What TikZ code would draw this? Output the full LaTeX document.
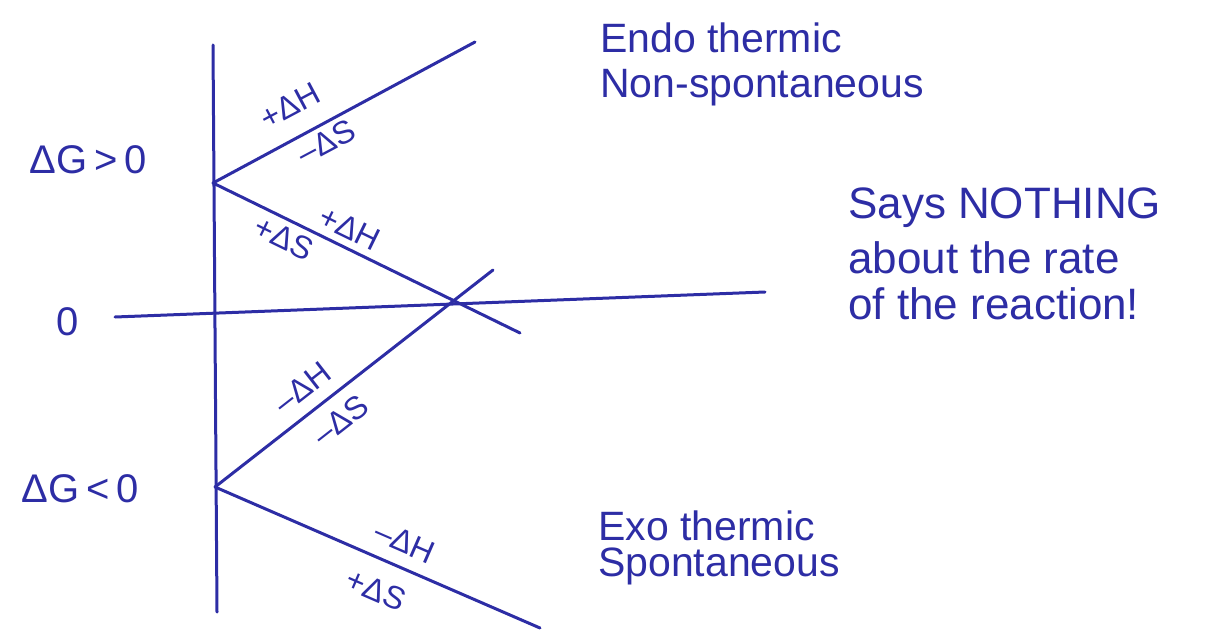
\documentclass[tikz,border=0pt]{standalone}
\usepackage{fontspec}
\setmainfont{Liberation Sans}
\definecolor{ink}{RGB}{45,45,165}
\begin{document}
\begin{tikzpicture}[x=1pt,y=-1pt,
  ln/.style={draw=ink,line width=3pt,line cap=round},
  lbl/.style={text=ink,font=\fontsize{32}{36}\selectfont,inner sep=0pt},
  note/.style={text=ink,font=\fontsize{41}{46}\selectfont,inner sep=0pt,anchor=west},
  bignote/.style={note,font=\fontsize{44}{50}\selectfont},
  glbl/.style={text=ink,font=\fontsize{40}{46}\selectfont,inner sep=0pt}]
\useasboundingbox (0,0) rectangle (1222,631);
% axis points
\coordinate (vtop) at (213,45);
\coordinate (vbot) at (217,612);
\coordinate (hleft) at (115,317);
\coordinate (hright) at (765,292);
\coordinate (up) at (213,183);
\coordinate (lo) at (215,487);
\coordinate (e1) at (475,42);
\coordinate (e2) at (520,333);
\coordinate (e3) at (493,270);
\coordinate (e4) at (540,628);
\draw[ln] (vtop) -- (vbot);
\draw[ln] (hleft) -- (hright);
\draw[ln] (up) -- (e1);
\draw[ln] (up) -- (e2);
\draw[ln] (lo) -- (e3);
\draw[ln] (lo) -- (e4);
% line labels
\node[lbl,rotate=28] (l1) at (290,106) {+ΔH};
\node[lbl,rotate=28] (l2) at (326,142) {\textendash ΔS};
\node[lbl,rotate=-26] (l3) at (284,238) {+ΔS};
\node[lbl,rotate=-26] (l4) at (350,228) {+ΔH};
\node[lbl,rotate=38] (l5) at (302,388) {\textendash ΔH};
\node[lbl,rotate=38] (l6) at (341,420) {\textendash ΔS};
\node[lbl,rotate=-23.5] (l7) at (405,542) {\textendash ΔH};
\node[lbl,rotate=-23.5] (l8) at (376,590) {+ΔS};
% left labels
\node[glbl] (gpos) at (88,160) {ΔG\,>\,0};
\node[glbl] (zero) at (68,322) {0};
\node[glbl] (gneg) at (80,489) {ΔG\,<\,0};
% notes
\node[note] (n1) at (600,38) {Endo thermic};
\node[note] (n2) at (600,88) {Non-spontaneous};
\node[bignote] (n3) at (848,208) {Says NOTHING};
\node[bignote] (n4) at (848,258) {about the rate};
\node[bignote] (n5) at (848,304) {of the reaction!};
\node[note] (n6) at (598,526) {Exo thermic};
\node[note] (n7) at (598,566) {Spontaneous};
\end{tikzpicture}
\end{document}
